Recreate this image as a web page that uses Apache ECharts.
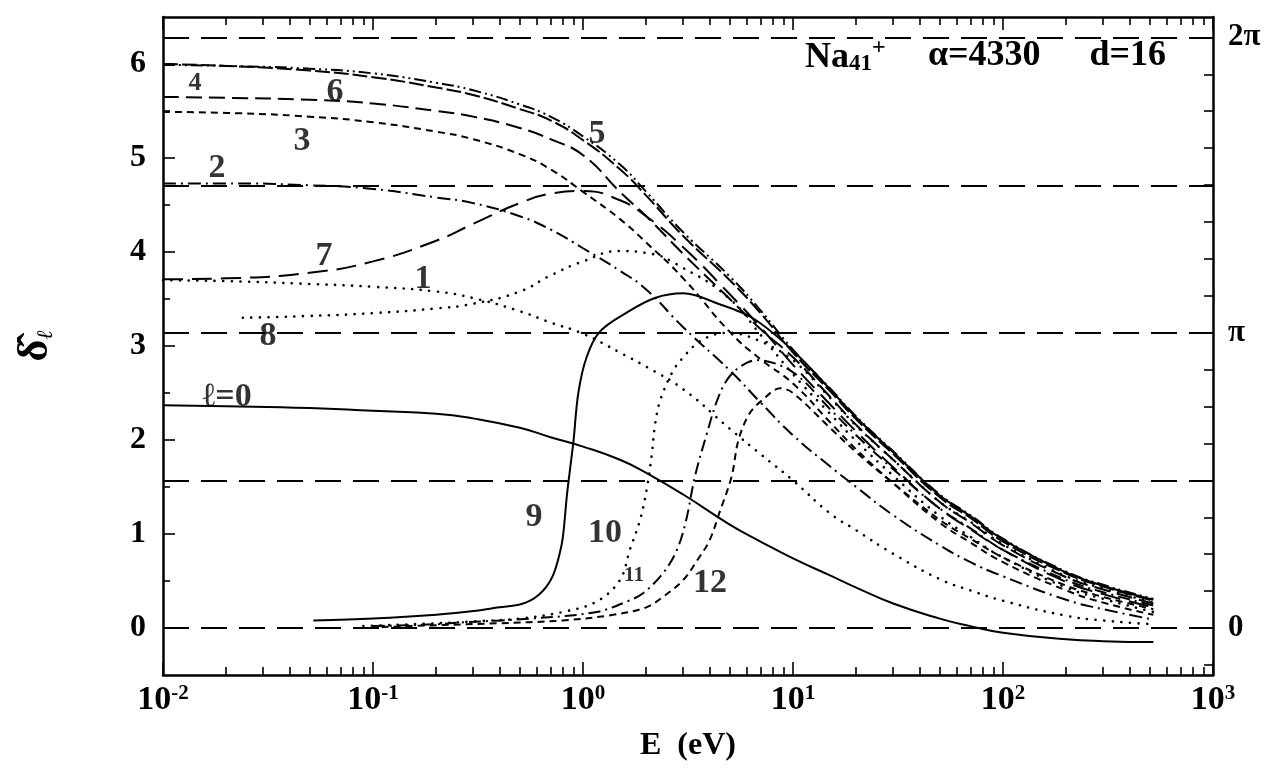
<!DOCTYPE html>
<html><head><meta charset="utf-8">
<script src="https://cdn.jsdelivr.net/npm/echarts@6/dist/echarts.min.js"></script>
<style>html,body{margin:0;padding:0;background:#fff}#c{width:1266px;height:773px}</style>
</head><body><div id="c"></div>
<script>
// ---------- data ----------
const E_GRID = [0.01,0.02,0.05,0.1,0.2,0.3,0.5,0.7,1,1.5,2,3,5,7,10,15,20,30,50,70,100,200,300,520];
const L0 = [2.37,2.36,2.34,2.31,2.28,2.23,2.13,2.03,1.93,1.79,1.65,1.42,1.10,0.92,0.74,0.56,0.43,0.26,0.10,0.02,-0.05,-0.12,-0.14,-0.15];
const L1 = [3.70,3.69,3.66,3.63,3.58,3.51,3.37,3.25,3.13,2.93,2.78,2.54,2.12,1.85,1.57,1.22,1.04,0.79,0.52,0.40,0.29,0.13,0.08,0.04];
const L2 = [4.73,4.73,4.71,4.67,4.58,4.52,4.38,4.24,4.04,3.80,3.60,3.20,2.74,2.40,2.05,1.72,1.50,1.20,0.88,0.70,0.55,0.30,0.20,0.09];
const L3 = [5.49,5.48,5.44,5.38,5.28,5.20,5.04,4.88,4.64,4.35,4.10,3.72,3.15,2.86,2.60,2.19,1.90,1.54,1.12,0.91,0.70,0.40,0.27,0.14];
const L4 = [6.00,5.98,5.93,5.86,5.75,5.67,5.52,5.40,5.19,4.88,4.60,4.17,3.70,3.35,2.93,2.52,2.22,1.85,1.39,1.17,0.92,0.58,0.44,0.29];
const L5 = [5.99,5.98,5.95,5.90,5.80,5.72,5.57,5.44,5.23,4.93,4.64,4.21,3.74,3.38,2.96,2.55,2.25,1.88,1.42,1.20,0.95,0.60,0.46,0.31];
const L6 = [5.65,5.64,5.62,5.58,5.50,5.44,5.32,5.20,5.03,4.64,4.38,3.98,3.50,3.18,2.88,2.46,2.16,1.79,1.34,1.12,0.88,0.54,0.41,0.26];
const L7 = [3.71,3.72,3.78,3.90,4.12,4.30,4.52,4.62,4.65,4.55,4.38,4.05,3.55,3.20,2.80,2.38,2.09,1.71,1.27,1.05,0.83,0.49,0.36,0.22];

const E8 = [0.024,0.05,0.1,0.2,0.3,0.5,0.7,1,1.5,2,3,5,7,10,15,20,30,50,70,100,200,300,520];
const L8 = [3.30,3.32,3.35,3.40,3.45,3.58,3.75,3.90,4.01,3.99,3.83,3.50,3.12,2.70,2.28,1.99,1.62,1.19,0.97,0.75,0.43,0.31,0.17];

const E9 = [0.052,0.1,0.2,0.3,0.4,0.5,0.56,0.62,0.67,0.72,0.76,0.80,0.84,0.9,0.95,1.04,1.2,1.6,2.2,3,4.4,6.5,10,15,20,30,50,70,100,200,300,520];
const L9 = [0.08,0.10,0.14,0.18,0.22,0.25,0.29,0.36,0.44,0.56,0.72,0.95,1.43,1.98,2.50,2.88,3.15,3.35,3.51,3.56,3.45,3.29,2.95,2.54,2.24,1.87,1.41,1.19,0.94,0.59,0.45,0.30];

const E10 = [0.09,0.2,0.3,0.5,0.8,1.16,1.5,1.67,1.87,2.02,2.13,2.2,2.33,2.69,3.0,3.5,4.2,5,7,10,15,20,30,50,70,100,200,300,520];
const L10 = [0.02,0.05,0.07,0.10,0.17,0.28,0.51,0.83,1.15,1.50,1.86,2.15,2.42,2.74,2.88,3.03,3.12,3.14,3.05,2.85,2.45,2.15,1.79,1.34,1.13,0.89,0.55,0.42,0.27];

const E11 = [0.1,0.2,0.27,0.56,1.16,1.65,1.93,2.4,2.8,3.1,3.41,3.89,4.35,4.85,5.6,6.7,10,15,20,30,50,70,100,200,300,520];
const L11 = [0.02,0.04,0.06,0.10,0.17,0.29,0.37,0.58,0.83,1.15,1.61,2.07,2.42,2.64,2.78,2.85,2.72,2.33,2.05,1.69,1.27,1.06,0.83,0.51,0.38,0.24];

const E12 = [0.11,0.2,0.39,0.8,1.39,2.0,2.4,3.0,3.5,4.0,4.5,5.1,5.5,6.2,7.1,8.7,10,15,20,30,50,70,100,200,300,520];
const L12 = [0.01,0.03,0.05,0.08,0.14,0.22,0.33,0.51,0.72,0.93,1.25,1.61,2.00,2.28,2.42,2.55,2.50,2.13,1.87,1.54,1.15,0.95,0.75,0.45,0.33,0.20];

const REF_LINES = [0, Math.PI/2, Math.PI, 3*Math.PI/2, 2*Math.PI];
const Y_LABELS = [0,1,2,3,4,5,6];
const Y_MINOR = [0.5,1.5,2.5,3.5,4.5,5.5];
const RIGHT_LABELS = [0, Math.PI, 2*Math.PI];
const RIGHT_TEXT = ['0','π','2π'];

const LABEL_TEXT = ['4','6','3','5','2','7','1','8','ℓ=0','9','10','11','12'];
const LABEL_E = [0.0142,0.0659,0.0459,1.166,0.0181,0.0585,0.173,0.0316,0.0202,0.585,1.273,1.75,4.03];
const LABEL_D = [5.79,5.70,5.18,5.25,4.89,3.95,3.71,3.10,2.46,1.18,1.01,0.56,0.48];

// ---------- rendering ----------
const FONT = "'Liberation Serif','DejaVu Serif',serif";
const pairs = (xs, ys) => xs.map((x, i) => [x, ys[i]]);
const BLACK = '#000';

const DOT = {type:[0.1,8.5], width:2.6, cap:'round'};
const curves = [
  {name:'0',  data:pairs(E_GRID,L0), ls:{type:'solid', width:2}, sm:0.5},
  {name:'1',  data:pairs(E_GRID,L1), ls:DOT, sm:0.5},
  {name:'2',  data:pairs(E_GRID,L2), ls:{type:[13,5,2,5], width:2}, sm:0.5},
  {name:'3',  data:pairs(E_GRID,L3), ls:{type:[7,5], width:2}, sm:0.5},
  {name:'4',  data:pairs(E_GRID,L4), ls:{type:[15,4], width:2}, sm:0.5},
  {name:'5',  data:pairs(E_GRID,L5), ls:{type:[12,4,2,4,2,4], width:2}, sm:0.5},
  {name:'6',  data:pairs(E_GRID,L6), ls:{type:[16,7], width:2}, sm:0.5},
  {name:'7',  data:pairs(E_GRID,L7), ls:{type:[20,9], width:2}, sm:0.5},
  {name:'8',  data:pairs(E8,L8), ls:DOT, sm:0.5},
  {name:'9',  data:pairs(E9,L9), ls:{type:'solid', width:2}, sm:0.35},
  {name:'10', data:pairs(E10,L10), ls:DOT, sm:0.35},
  {name:'11', data:pairs(E11,L11), ls:{type:[12,5,2,5], width:2}, sm:0.35},
  {name:'12', data:pairs(E12,L12), ls:{type:[7,5], width:2}, sm:0.35}
];

const series = curves.map(c => ({
  name: c.name, type:'line', xAxisIndex:0, yAxisIndex:0,
  data: c.data, showSymbol:false, symbol:'none', smooth:c.sm,
  lineStyle: Object.assign({color:BLACK}, c.ls), silent:true, z:3
}));

series.push({
  type:'line', xAxisIndex:0, yAxisIndex:0, data:[], silent:true,
  markLine:{silent:true, symbol:['none','none'], label:{show:false},
    lineStyle:{type:[26,12], width:1.8, color:BLACK},
    data: REF_LINES.map(v => ({yAxis:v}))}
});

const SIZE_OVERRIDE = {'4':26, '11':21};
series.push({
  type:'scatter', xAxisIndex:0, yAxisIndex:0, symbolSize:1, silent:true, z:5,
  itemStyle:{color:'rgba(0,0,0,0)'},
  data: LABEL_E.map((e,i) => ({value:[e, LABEL_D[i]], name:LABEL_TEXT[i],
        label:{fontSize: SIZE_OVERRIDE[LABEL_TEXT[i]] || 34}})),
  label:{show:true, position:'inside', formatter:p => p.name, color:BLACK,
         fontFamily:FONT, fontWeight:'bold', fontSize:34}
});

const minorX = [];
for (let d = -2; d < 3; d++) for (let k = 2; k <= 9; k++) minorX.push(d + Math.log10(k));
const rightTicks = [];
for (let k = -1; k <= 16; k++) rightTicks.push(k*Math.PI/8);

const axisLineStyle = {color:BLACK, width:2.5};
const tickStyle = {color:BLACK, width:1.6};

const option = {
  animation:false,
  backgroundColor:'#fff',
  grid:{left:163, right:53, top:17, bottom:98, containLabel:false},
  xAxis:[
    {type:'log', logBase:10, min:0.01, max:1000, position:'bottom',
     axisLine:{show:true, onZero:false, lineStyle:axisLineStyle},
     axisTick:{show:true, inside:true, length:13, lineStyle:tickStyle},
     splitLine:{show:false},
     axisLabel:{show:true, margin:8, color:BLACK,
       formatter: v => '{b|10}{s|' + Math.round(Math.log10(v)) + '}',
       rich:{ b:{fontFamily:FONT, fontWeight:'bold', fontSize:34, color:BLACK, lineHeight:34, verticalAlign:'bottom'},
              s:{fontFamily:FONT, fontWeight:'bold', fontSize:21, color:BLACK, lineHeight:34, verticalAlign:'top'} }},
     name:'E  (eV)', nameLocation:'middle', nameGap:55,
     nameTextStyle:{fontFamily:FONT, fontWeight:'bold', fontSize:32, color:BLACK}},
    {type:'value', min:-2, max:3, position:'bottom',
     axisLine:{show:false, onZero:false}, axisLabel:{show:false}, splitLine:{show:false},
     axisTick:{show:true, inside:true, length:8, customValues:minorX, lineStyle:tickStyle}},
    {type:'log', logBase:10, min:0.01, max:1000, position:'top',
     axisLine:{show:true, onZero:false, lineStyle:axisLineStyle},
     axisTick:{show:true, inside:true, length:13, lineStyle:tickStyle},
     axisLabel:{show:false}, splitLine:{show:false}},
    {type:'value', min:-2, max:3, position:'top',
     axisLine:{show:false, onZero:false}, axisLabel:{show:false}, splitLine:{show:false},
     axisTick:{show:true, inside:true, length:8, customValues:minorX, lineStyle:tickStyle}}
  ],
  yAxis:[
    {type:'value', min:-0.5, max:6.5, position:'left',
     axisLine:{show:true, onZero:false, lineStyle:axisLineStyle},
     axisTick:{show:true, inside:true, length:12, customValues:Y_LABELS, lineStyle:tickStyle},
     axisLabel:{show:true, customValues:Y_LABELS, margin:17, color:BLACK,
       fontFamily:FONT, fontWeight:'bold', fontSize:32},
     splitLine:{show:false},
     name:'{d|δ̂}{l|ℓ}', nameLocation:'middle', nameGap:106, nameRotate:90,
     nameTextStyle:{rich:{
       d:{fontFamily:FONT, fontWeight:'bold', fontSize:42, color:BLACK, lineHeight:48, verticalAlign:'bottom'},
       l:{fontFamily:FONT, fontStyle:'italic', fontSize:22, color:BLACK, lineHeight:48, verticalAlign:'bottom'}}}},
    {type:'value', min:-0.5, max:6.5, position:'left',
     axisLine:{show:false, onZero:false}, axisLabel:{show:false}, splitLine:{show:false},
     axisTick:{show:true, inside:true, length:7, customValues:Y_MINOR, lineStyle:tickStyle}},
    {type:'value', min:-0.5, max:6.5, position:'right',
     axisLine:{show:true, onZero:false, lineStyle:axisLineStyle},
     axisTick:{show:true, inside:true, length:9, customValues:rightTicks, lineStyle:tickStyle},
     axisLabel:{show:true, customValues:RIGHT_LABELS, margin:15, color:BLACK,
       fontFamily:FONT, fontWeight:'bold', fontSize:31,
       formatter: v => { let best = 0; RIGHT_LABELS.forEach((r,i) => { if (Math.abs(r - v) < Math.abs(RIGHT_LABELS[best] - v)) best = i; }); return RIGHT_TEXT[best]; }},
     splitLine:{show:false}}
  ],
  graphic:[
    {type:'text', x:805, y:56, silent:true, style:{
      text:'{a|Na}{b|41}{c|+}', verticalAlign:'middle', align:'left',
      rich:{ a:{fontFamily:FONT, fontWeight:'bold', fontSize:36, lineHeight:40, verticalAlign:'bottom', fill:BLACK},
             b:{fontFamily:FONT, fontWeight:'bold', fontSize:23, lineHeight:40, verticalAlign:'bottom', fill:BLACK},
             c:{fontFamily:FONT, fontWeight:'bold', fontSize:24, lineHeight:40, verticalAlign:'top', fill:BLACK}}}},
    {type:'text', x:928, y:56, silent:true, style:{
      text:'α=4330', verticalAlign:'middle', align:'left',
      font:"bold 36px 'Liberation Serif'", fill:BLACK}},
    {type:'text', x:1166, y:56, silent:true, style:{
      text:'d=16', verticalAlign:'middle', align:'right',
      font:"bold 36px 'Liberation Serif'", fill:BLACK}}
  ],
  series: series
};

const chart = echarts.init(document.getElementById('c'), null, {renderer:'canvas'});
chart.setOption(option);
</script>
</body></html>
